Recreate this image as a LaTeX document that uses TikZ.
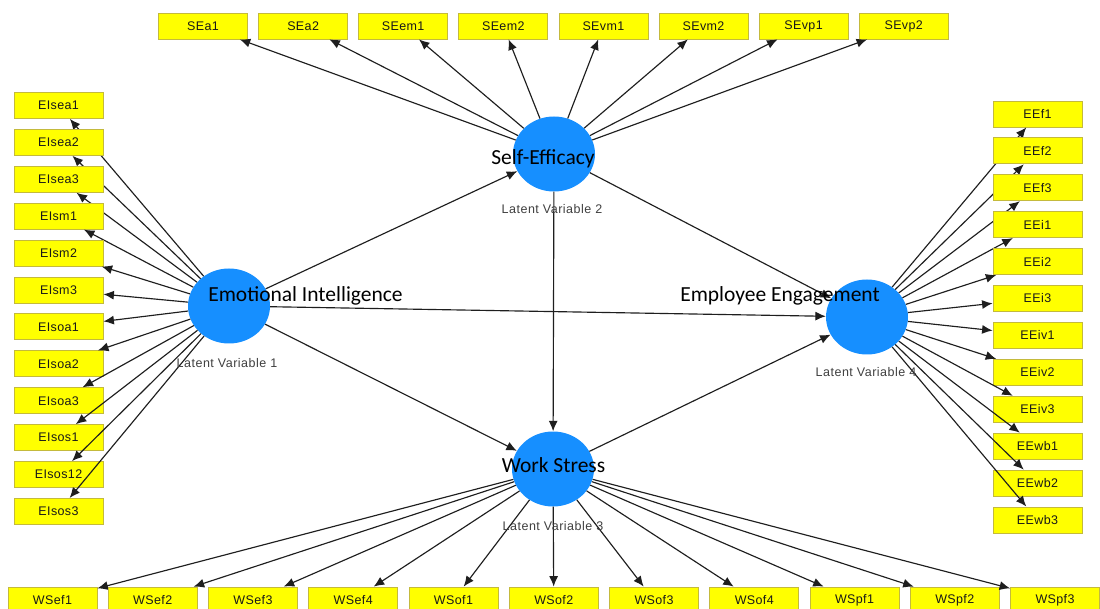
\documentclass[tikz,border=0pt]{standalone}
\usepackage{fontspec}
\setmainfont{Liberation Sans}
\newfontfamily\calib{Carlito}
\newfontfamily\lvfont[LetterSpace=4]{Liberation Sans}
\newfontfamily\boxfont[LetterSpace=3]{Liberation Sans}
\usetikzlibrary{arrows.meta,shapes.geometric}
\definecolor{lvblue}{RGB}{22,143,255}
\definecolor{indyellow}{RGB}{255,255,0}
\definecolor{indborder}{RGB}{196,186,60}
\definecolor{linkgray}{RGB}{30,30,30}
\begin{document}
\begin{tikzpicture}[x=1pt,y=-1pt,
  latent/.style={ellipse, fill=lvblue, draw=none, minimum width=82pt, minimum height=75pt, inner sep=0pt},
  indicator/.style={rectangle, fill=indyellow, draw=indborder, line width=0.8pt,
    minimum width=89pt, minimum height=26pt, inner sep=0pt,
    font=\boxfont\fontsize{12.5}{14}\selectfont, text=black!90},
  bigtext/.style={font=\calib\fontsize{21.5}{24}\selectfont, inner sep=0pt, anchor=base},
  lvtext/.style={font=\lvfont\fontsize{12.5}{14}\selectfont, text=black!75, inner sep=0pt},
  link/.style={draw=linkgray, line width=1.15pt, -{Latex[length=10.5pt,width=9pt]}}
]
\useasboundingbox (0,0) rectangle (1100,609);
\fill[white] (0,0) rectangle (1100,609);

% latent variables
\node[latent] (EI) at (229,306) {};
\node[latent] (SE) at (554,154) {};
\node[latent] (WS) at (553,469) {};
\node[latent] (EE) at (867,317) {};

% structural paths
\draw[link] (EI) -- (SE);
\draw[link] (EI) -- (EE);
\draw[link] (EI) -- (WS);
\draw[link] (SE) -- (WS);
\draw[link] (SE) -- (EE);
\draw[link] (WS) -- (EE);

% self-efficacy indicators
\foreach \t [count=\i from 0] in {SEa1,SEa2,SEem1,SEem2,SEvm1,SEvm2,SEvp1,SEvp2} {
  \node[indicator] (se-\t) at ({203+100.1*\i},26) {\t};
  \draw[link] (SE) -- (se-\t);
}

% emotional intelligence indicators
\foreach \t [count=\i from 0] in {EIsea1,EIsea2,EIsea3,EIsm1,EIsm2,EIsm3,EIsoa1,EIsoa2,EIsoa3,EIsos1,EIsos12,EIsos3} {
  \node[indicator] (ei-\t) at (58.5,{105.5+36.9*\i}) {\t};
  \draw[link] (EI) -- (ei-\t);
}

% employee engagement indicators
\foreach \t [count=\i from 0] in {EEf1,EEf2,EEf3,EEi1,EEi2,EEi3,EEiv1,EEiv2,EEiv3,EEwb1,EEwb2,EEwb3} {
  \node[indicator] (ee-\t) at (1037.5,{114+36.9*\i}) {\t};
  \draw[link] (EE) -- (ee-\t);
}

% work stress indicators
\foreach \t [count=\i from 0] in {WSef1,WSef2,WSef3,WSef4,WSof1,WSof2,WSof3,WSof4,WSpf1,WSpf2,WSpf3} {
  \node[indicator] (ws-\t) at ({52.5+100.25*\i},600) {\t};
  \draw[link] (WS) -- (ws-\t);
}

% construct names
\node[bigtext] (EIname) at (305.5,302) {Emotional Intelligence};
\node[bigtext] (SEname) at (543,165) {Self-Efficacy};
\node[bigtext] (WSname) at (553.5,472) {Work Stress};
\node[bigtext] (EEname) at (780,302) {Employee Engagement};

% latent variable captions
\node[lvtext] (EIcap) at (227,363) {Latent Variable 1};
\node[lvtext] (SEcap) at (552,209) {Latent Variable 2};
\node[lvtext] (WScap) at (553,526) {Latent Variable 3};
\node[lvtext] (EEcap) at (866,372) {Latent Variable 4};
\end{tikzpicture}
\end{document}
